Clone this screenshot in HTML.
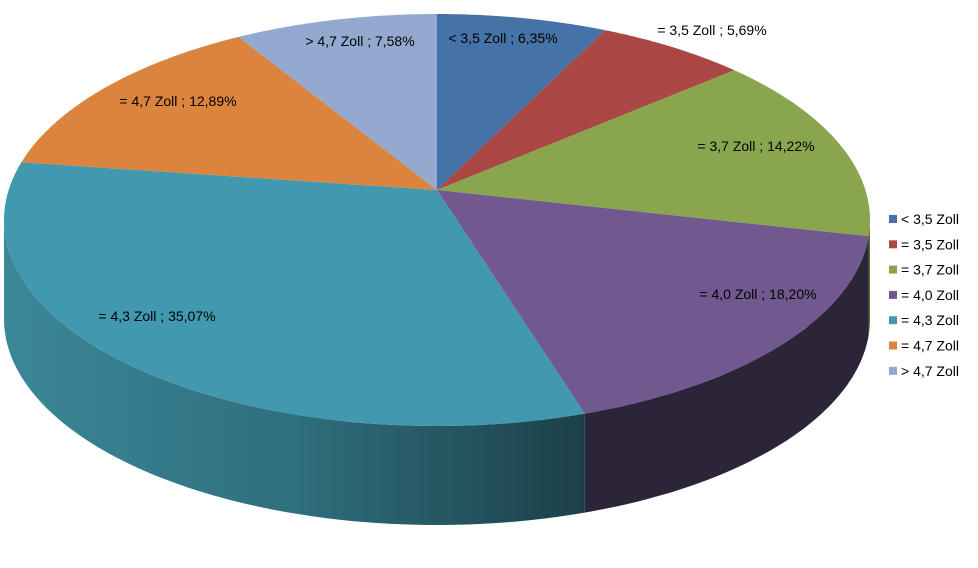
<!DOCTYPE html>
<html><head><meta charset="utf-8"><style>
html,body{margin:0;padding:0;background:#fff;}
svg{display:block;font-family:"Liberation Sans",sans-serif;}
</style></head><body>
<svg id="chart" width="978" height="568" viewBox="0 0 978 568">
<defs>
<linearGradient id="cyanSide" x1="0" y1="0" x2="1" y2="0">
<stop offset="0" stop-color="#3b8798"/><stop offset="0.5" stop-color="#2f6f7e"/><stop offset="1" stop-color="#1c4048"/>
</linearGradient>
</defs>
<g id="sides"></g><g id="tops"></g><g id="labels"></g><g id="legend"></g>
</svg>
<script>
const categories = ["< 3,5 Zoll", "= 3,5 Zoll", "= 3,7 Zoll", "= 4,0 Zoll", "= 4,3 Zoll", "= 4,7 Zoll", "> 4,7 Zoll"];
const values = [6.35, 5.69, 14.22, 18.20, 35.07, 12.89, 7.58];
const valueLabels = ["6,35%", "5,69%", "14,22%", "18,20%", "35,07%", "12,89%", "7,58%"];
const colors = ["#4572a7", "#aa4643", "#89a54e", "#71588f", "#4198af", "#db843d", "#93a9cf"];
const sideColors = ["#2b4668", "#6a2b2a", "#55672f", "#2c2438", "url(#cyanSide)", "#8a5226", "#5b6a82"];
const labelAnchors = [[503,38],[712,30],[756,146],[758,294],[157,316],[178,101],[360,41]];

const NS = "http://www.w3.org/2000/svg";
const cx = 437, cy = 220, rx = 433, ry = 206, ax = 437, ay = 190, depth = 99;
function pt(t, dy) { return [cx + rx * Math.sin(t), cy - ry * Math.cos(t) + (dy || 0)]; }
function arc(t0, t1, dy, n) {
  const p = [];
  for (let i = 0; i <= n; i++) { const t = t0 + (t1 - t0) * i / n; const q = pt(t, dy); p.push(q[0].toFixed(1) + "," + q[1].toFixed(1)); }
  return p;
}
const total = values.reduce((a, b) => a + b, 0);
let acc = 0;
const sides = document.getElementById("sides"), tops = document.getElementById("tops"),
      labels = document.getElementById("labels"), legend = document.getElementById("legend");
values.forEach((v, i) => {
  const t0 = acc / total * 2 * Math.PI; acc += v;
  const t1 = acc / total * 2 * Math.PI;
  const s0 = Math.max(t0, Math.PI / 2), s1 = Math.min(t1, 3 * Math.PI / 2);
  if (s1 > s0) {
    const top = arc(s0, s1, 0, 60), bot = arc(s1, s0, depth, 60);
    const sp = document.createElementNS(NS, "path");
    sp.setAttribute("d", "M" + top.join("L") + "L" + bot.join("L") + "Z");
    sp.setAttribute("fill", sideColors[i]);
    
    
    sides.appendChild(sp);
  }
  const a = arc(t0, t1, 0, 80);
  const p = document.createElementNS(NS, "path");
  p.setAttribute("d", "M" + ax + "," + ay + "L" + a.join("L") + "Z");
  p.setAttribute("fill", colors[i]);
  
  
  tops.appendChild(p);
  const tx = document.createElementNS(NS, "text");
  tx.setAttribute("x", labelAnchors[i][0]); tx.setAttribute("y", labelAnchors[i][1] + 5);
  tx.setAttribute("text-anchor", "middle"); tx.setAttribute("font-size", "14"); tx.setAttribute("fill", "#000");
  tx.textContent = categories[i] + " ; " + valueLabels[i];
  
  
  labels.appendChild(tx);
  const y = 219 + i * 25.3;
  const r = document.createElementNS(NS, "rect");
  r.setAttribute("x", 889); r.setAttribute("y", y - 4); r.setAttribute("width", 8); r.setAttribute("height", 8);
  r.setAttribute("fill", colors[i]);
  
  
  legend.appendChild(r);
  const lt = document.createElementNS(NS, "text");
  lt.setAttribute("x", 901); lt.setAttribute("y", y + 5); lt.setAttribute("font-size", "14"); lt.setAttribute("fill", "#000");
  lt.textContent = categories[i];
  
  
  legend.appendChild(lt);
});
</script>
</body></html>
